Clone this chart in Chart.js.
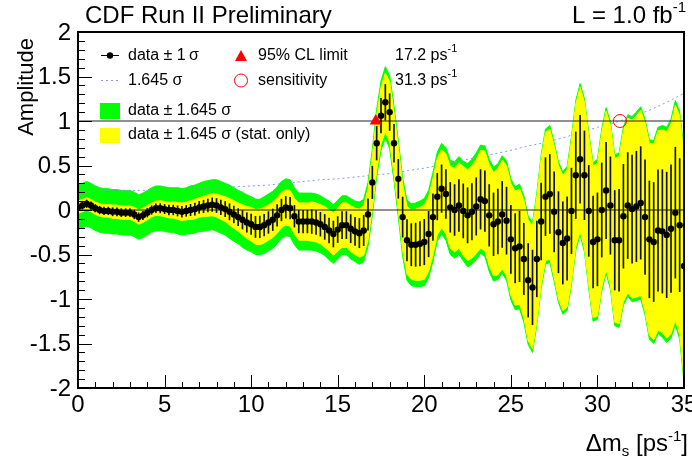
<!DOCTYPE html>
<html>
<head>
<meta charset="utf-8">
<script src="https://cdn.jsdelivr.net/npm/chart.js@4.4.1/dist/chart.umd.min.js"></script>
<style>
  html, body { margin: 0; padding: 0; background: #fff; }
  #wrap { width: 692px; height: 468px; }
</style>
</head>
<body>
<div id="wrap"><canvas id="amp-chart" width="692" height="468"></canvas></div>
<script>
// Amplitude scan, one point every 0.25 ps^-1 from 0 to 35
const scanStep = 0.25;
const amplitude = [
  0.03, 0.05, 0.07, 0.05, 0.02, 0.00, -0.01, -0.01, -0.02, -0.02,
  -0.03, -0.03, -0.03, -0.05, -0.08, -0.06, -0.03, 0.00, 0.02, 0.02,
  0.01, 0.00, 0.00, -0.01, -0.02, -0.01, 0.00, 0.01, 0.03, 0.04,
  0.05, 0.06, 0.05, 0.03, 0.01, -0.02, -0.05, -0.08, -0.11, -0.14,
  -0.16, -0.19, -0.19, -0.17, -0.14, -0.11, -0.06, 0.00, 0.03, 0.02,
  -0.07, -0.13, -0.13, -0.13, -0.13, -0.14, -0.16, -0.19, -0.23, -0.27,
  -0.22, -0.17, -0.17, -0.21, -0.24, -0.26, -0.23, -0.05, 0.31, 0.75,
  1.06, 1.21, 1.10, 0.75, 0.35, -0.08, -0.34, -0.39, -0.39, -0.38,
  -0.36, -0.27, -0.08, 0.15, 0.24, 0.18, 0.03, 0.00, 0.05, -0.01,
  -0.06, -0.02, 0.04, 0.12, 0.10, -0.06, -0.16, -0.13, -0.05, -0.12,
  -0.33, -0.43, -0.41, -0.55, -0.79, -0.87, -0.55, -0.13, 0.15, 0.18,
  -0.02, -0.25, -0.37, -0.32, -0.01, 0.39, 0.57, 0.39, -0.01, -0.36,
  -0.33, 0.00, 0.22, 0.05, -0.34, -0.34, -0.07, 0.05, 0.01, 0.04,
  0.08, -0.08, -0.33, -0.36, -0.23, -0.24, -0.28, -0.21, -0.03, -0.17,
  -0.63
];
// half width of the green band (1.645 sigma, total)
const totBand = [
  0.25, 0.25, 0.25, 0.25, 0.25, 0.25, 0.25, 0.25, 0.25, 0.25, 0.25,
  0.25, 0.25, 0.25, 0.25, 0.25, 0.25, 0.25, 0.25, 0.25, 0.25,
  0.25, 0.25, 0.26, 0.26, 0.26, 0.27, 0.27, 0.27, 0.28, 0.28,
  0.28, 0.29, 0.29, 0.29, 0.30, 0.30, 0.30, 0.31, 0.31, 0.31,
  0.31, 0.31, 0.32, 0.32, 0.32, 0.32, 0.32, 0.32, 0.32, 0.32,
  0.32, 0.32, 0.32, 0.32, 0.32, 0.32, 0.32, 0.33, 0.33, 0.33,
  0.33, 0.33, 0.34, 0.34, 0.35, 0.35, 0.36, 0.37, 0.38, 0.39,
  0.40, 0.41, 0.42, 0.43, 0.44, 0.45, 0.46, 0.47, 0.48, 0.49,
  0.49, 0.50, 0.50, 0.51, 0.52, 0.53, 0.54, 0.55, 0.56, 0.58,
  0.59, 0.60, 0.61, 0.62, 0.63, 0.64, 0.65, 0.66, 0.67, 0.68,
  0.69, 0.70, 0.71, 0.72, 0.73, 0.74, 0.75, 0.76, 0.77, 0.78,
  0.79, 0.80, 0.81, 0.83, 0.84, 0.85, 0.86, 0.88, 0.89, 0.90,
  0.91, 0.93, 0.94, 0.96, 0.98, 1.00, 1.02, 1.04, 1.06, 1.08,
  1.10, 1.12, 1.14, 1.16, 1.19, 1.21, 1.23, 1.26, 1.28, 1.31
];
// half width of the yellow band (1.645 sigma, stat. only)
const statBand = [
  0.07, 0.07, 0.07, 0.07, 0.07, 0.07, 0.07, 0.07, 0.075, 0.075, 0.075,
  0.075, 0.075, 0.08, 0.08, 0.08, 0.08, 0.08, 0.08, 0.085, 0.085,
  0.09, 0.09, 0.095, 0.10, 0.10, 0.105, 0.11, 0.11, 0.115, 0.12,
  0.125, 0.13, 0.135, 0.14, 0.15, 0.155, 0.16, 0.17, 0.18, 0.19,
  0.195, 0.20, 0.20, 0.20, 0.20, 0.20, 0.20, 0.20, 0.20, 0.20,
  0.21, 0.21, 0.21, 0.22, 0.22, 0.22, 0.23, 0.23, 0.24, 0.24,
  0.25, 0.25, 0.26, 0.26, 0.27, 0.28, 0.29, 0.30, 0.31, 0.32,
  0.33, 0.34, 0.35, 0.36, 0.37, 0.38, 0.39, 0.40, 0.41, 0.42,
  0.42, 0.43, 0.43, 0.44, 0.45, 0.46, 0.47, 0.48, 0.50, 0.51,
  0.52, 0.53, 0.55, 0.56, 0.57, 0.58, 0.60, 0.61, 0.62, 0.63,
  0.64, 0.65, 0.66, 0.68, 0.69, 0.70, 0.71, 0.72, 0.73, 0.74,
  0.75, 0.76, 0.77, 0.79, 0.80, 0.81, 0.82, 0.84, 0.85, 0.86,
  0.87, 0.89, 0.90, 0.92, 0.94, 0.96, 0.98, 1.00, 1.02, 1.04,
  1.06, 1.08, 1.10, 1.12, 1.14, 1.16, 1.18, 1.21, 1.23, 1.26
];
// dotted 1.645 sigma curve, read at integer dm_s
const sensX = [0, 1, 2, 3, 4, 5, 6, 7, 8, 9, 10, 11, 12, 13, 14, 15, 16, 17,
  18, 19, 20, 21, 22, 23, 24, 25, 26, 27, 28, 29, 30, 31, 32, 33, 34, 35];
const sensY = [0.21, 0.21, 0.22, 0.22, 0.22, 0.23, 0.23, 0.24, 0.25, 0.26, 0.27, 0.28,
  0.30, 0.32, 0.34, 0.35, 0.37, 0.39, 0.41, 0.44, 0.47, 0.51, 0.55, 0.59, 0.63,
  0.67, 0.72, 0.76, 0.81, 0.87, 0.93, 0.98, 1.05, 1.12, 1.21, 1.31];

const limit95 = 17.2;
const sensitivity = 31.3;
const xTickValues = [0, 5, 10, 15, 20, 25, 30, 35];
const yTickValues = [-2, -1.5, -1, -0.5, 0, 0.5, 1, 1.5, 2];
const refLevels = [0, 1];

const FONT = '"Liberation Sans", Arial, Helvetica, sans-serif';
const k1645 = 1.645;

const dms = amplitude.map((_, i) => i * scanStep);
const pts = amplitude.map((a, i) => ({ x: dms[i], y: a }));
const greenHi = amplitude.map((a, i) => ({ x: dms[i], y: a + totBand[i] }));
const greenLo = amplitude.map((a, i) => ({ x: dms[i], y: a - totBand[i] }));
const yellowHi = amplitude.map((a, i) => ({ x: dms[i], y: a + statBand[i] }));
const yellowLo = amplitude.map((a, i) => ({ x: dms[i], y: a - statBand[i] }));
const errBars = amplitude.map((a, i) => ({ x: dms[i], y: [a - statBand[i] / k1645, a + statBand[i] / k1645] }));
const sensLine = sensX.map((v, i) => ({ x: v, y: sensY[i] }));

function lineSet(data, color, extra) {
  return Object.assign({
    type: 'line', data: data, borderColor: color, borderWidth: 1,
    pointRadius: 0, fill: false, tension: 0
  }, extra);
}

// draws text pieces (normal / sub / superscript) one after another
function drawParts(ctx, parts, x, y, align) {
  let w = 0;
  parts.forEach(p => { ctx.font = p[1] + 'px ' + FONT; w += ctx.measureText(p[0]).width; });
  let cx = align === 'right' ? x - w : x;
  ctx.textAlign = 'left';
  parts.forEach(p => {
    ctx.font = p[1] + 'px ' + FONT;
    ctx.fillText(p[0], cx, y + (p[2] || 0));
    cx += ctx.measureText(p[0]).width;
  });
}

const rootStyle = {
  id: 'rootStyle',
  afterDraw(chart) {
    const { ctx, chartArea: a, scales: { x, y } } = chart;
    ctx.save();
    ctx.fillStyle = '#000';
    ctx.strokeStyle = '#000';

    // frame
    ctx.lineWidth = 2;
    ctx.strokeRect(a.left, a.top, a.right - a.left, a.bottom - a.top);

    // inward ticks
    ctx.lineWidth = 1;
    ctx.beginPath();
    for (let k = -20; k <= 20; k++) {
      const py = Math.round(y.getPixelForValue(k / 10)) + 0.5;
      const len = k % 5 === 0 ? 14 : 7;
      ctx.moveTo(a.left, py); ctx.lineTo(a.left + len, py);
    }
    for (let k = 0; k <= 35; k++) {
      const px = Math.round(x.getPixelForValue(k)) + 0.5;
      const len = k % 5 === 0 ? 13 : 6;
      ctx.moveTo(px, a.bottom); ctx.lineTo(px, a.bottom - len);
    }
    ctx.stroke();

    // tick labels
    ctx.font = '24px ' + FONT;
    ctx.textAlign = 'right';
    ctx.textBaseline = 'middle';
    yTickValues.forEach(v => ctx.fillText(String(v), a.left - 7, y.getPixelForValue(v) + 1));
    ctx.textAlign = 'center';
    ctx.textBaseline = 'top';
    xTickValues.forEach(v => ctx.fillText(String(v), x.getPixelForValue(v), a.bottom + 5));

    // axis titles
    ctx.save();
    ctx.translate(27, a.top + 6);
    ctx.rotate(-Math.PI / 2);
    ctx.font = '22px ' + FONT;
    ctx.textAlign = 'right';
    ctx.textBaseline = 'middle';
    ctx.fillText('Amplitude', 0, 0);
    ctx.restore();

    ctx.textBaseline = 'alphabetic';
    drawParts(ctx, [['\u0394m', 24], ['s', 15, 5], [' [ps', 24], ['-1', 15, -10], [']', 24]], 688, 451, 'right');

    // header
    ctx.font = '24px ' + FONT;
    ctx.textAlign = 'left';
    ctx.fillText('CDF Run II Preliminary', 85, 23);
    drawParts(ctx, [['L = 1.0 fb', 24], ['-1', 15, -11]], 686, 23, 'right');

    // legend
    ctx.textBaseline = 'middle';
    ctx.font = '16px ' + FONT;
    ctx.beginPath();
    ctx.moveTo(101, 55.5); ctx.lineTo(119, 55.5);
    ctx.stroke();
    ctx.beginPath();
    ctx.arc(110, 55.5, 3.2, 0, Math.PI * 2);
    ctx.fill();
    ctx.fillText('data \u00b1 1\u2009\u03c3', 128, 56);

    ctx.save();
    ctx.strokeStyle = '#7f9be6';
    ctx.setLineDash([2, 3]);
    ctx.beginPath();
    ctx.moveTo(101, 80.5); ctx.lineTo(119, 80.5);
    ctx.stroke();
    ctx.restore();
    ctx.fillText('1.645 \u03c3', 128, 81);

    ctx.fillStyle = '#00ff00';
    ctx.fillRect(100, 103, 20, 16);
    ctx.fillStyle = '#ffff00';
    ctx.fillRect(100, 128, 20, 15);
    ctx.fillStyle = '#000';
    ctx.fillText('data \u00b1 1.645 \u03c3', 128, 111);
    ctx.fillText('data \u00b1 1.645 \u03c3 (stat. only)', 128, 135);

    ctx.fillStyle = '#ff0000';
    ctx.beginPath();
    ctx.moveTo(241, 50); ctx.lineTo(247, 61); ctx.lineTo(235, 61);
    ctx.closePath();
    ctx.fill();
    ctx.strokeStyle = '#ff0000';
    ctx.beginPath();
    ctx.arc(241, 80.5, 6.5, 0, Math.PI * 2);
    ctx.stroke();

    ctx.fillStyle = '#000';
    ctx.textAlign = 'left';
    ctx.fillText('95% CL limit', 258, 56);
    ctx.fillText('sensitivity', 258, 81);
    drawParts(ctx, [[limit95.toFixed(1) + ' ps', 16], ['-1', 11, -7]], 395, 56, 'left');
    drawParts(ctx, [[sensitivity.toFixed(1) + ' ps', 16], ['-1', 11, -7]], 395, 81, 'left');
    ctx.restore();
  }
};

new Chart(document.getElementById('amp-chart'), {
  type: 'line',
  data: {
    datasets: [
      lineSet(greenHi, '#00ff00', { fill: '+1', backgroundColor: '#00ff00', order: 10 }),
      lineSet(greenLo, '#00ff00', { order: 9 }),
      lineSet(sensLine, '#7f9be6', { borderDash: [2, 3], order: 8 }),
      lineSet(yellowHi, '#ffff00', { fill: '+1', backgroundColor: '#ffff00', order: 7 }),
      lineSet(yellowLo, '#ffff00', { order: 6 }),
      lineSet(refLevels.map(v => ({ x: 0, y: v })).flatMap(p => [p, { x: 35, y: p.y }, { x: NaN, y: NaN }]),
        '#222', { spanGaps: false, order: 5 }),
      {
        type: 'bar', data: errBars, backgroundColor: '#111', barThickness: 1,
        grouped: false, order: 4
      },
      lineSet(pts, '#000', {
        showLine: false, pointRadius: 3.2, pointBackgroundColor: '#000',
        pointBorderWidth: 0, order: 3
      }),
      lineSet([{ x: limit95, y: 1 }], '#ff0000', {
        showLine: false, pointStyle: 'triangle', pointRadius: 7,
        pointBackgroundColor: '#ff0000', pointBorderWidth: 0, order: 2
      }),
      lineSet([{ x: sensitivity, y: 1 }], '#ff0000', {
        showLine: false, pointStyle: 'circle', pointRadius: 6.5,
        pointBackgroundColor: 'rgba(0,0,0,0)', pointBorderColor: '#ff0000',
        pointBorderWidth: 1, order: 1
      })
    ]
  },
  options: {
    responsive: false,
    animation: false,
    events: [],
    layout: { padding: { top: 32, right: 8, left: 0, bottom: 0 } },
    plugins: { legend: { display: false }, tooltip: { enabled: false } },
    scales: {
      x: {
        type: 'linear', min: 0, max: 35, offset: false,
        grid: { display: false, offset: false }, border: { display: false },
        ticks: { display: false },
        afterFit: s => { s.height = 80; }
      },
      y: {
        type: 'linear', min: -2, max: 2,
        grid: { display: false }, border: { display: false },
        ticks: { display: false },
        afterFit: s => { s.width = 78; }
      }
    }
  },
  plugins: [rootStyle]
});
</script>
</body>
</html>
